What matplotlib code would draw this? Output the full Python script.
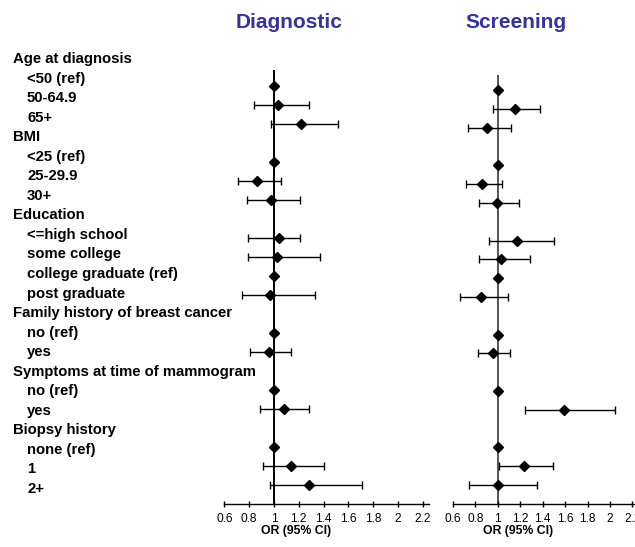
import matplotlib
matplotlib.use("Agg")
import matplotlib.pyplot as plt
import numpy as np

plt.rcParams['font.family'] = ['Liberation Sans', 'DejaVu Sans']

# Row labels (headers are not indented)
labels = ["Age at diagnosis", "<50 (ref)", "50-64.9", "65+",
          "BMI", "<25 (ref)", "25-29.9", "30+",
          "Education", "<=high school", "some college", "college graduate (ref)", "post graduate",
          "Family history of breast cancer", "no (ref)", "yes",
          "Symptoms at time of mammogram", "no (ref)", "yes",
          "Biopsy history", "none (ref)", "1", "2+"]
is_header = [True, False, False, False,
             True, False, False, False,
             True, False, False, False, False,
             True, False, False,
             True, False, False,
             True, False, False, False]

# Diagnostic: OR, lower CI, upper CI (None for header rows)
diag_or = [None, 1.00, 1.035, 1.215, None, 1.00, 0.86, 0.975, None, 1.04, 1.025, 1.00, 0.965,
           None, 1.00, 0.957, None, 1.00, 1.078, None, 1.00, 1.135, 1.28]
diag_lo = [None, 1.00, 0.84, 0.98, None, 1.00, 0.71, 0.78, None, 0.79, 0.79, 1.00, 0.74,
           None, 1.00, 0.81, None, 1.00, 0.89, None, 1.00, 0.915, 0.97]
diag_hi = [None, 1.00, 1.28, 1.52, None, 1.00, 1.06, 1.21, None, 1.21, 1.375, 1.00, 1.33,
           None, 1.00, 1.137, None, 1.00, 1.28, None, 1.00, 1.40, 1.71]

# Screening
scr_or = [None, 1.00, 1.155, 0.90, None, 1.00, 0.855, 0.99, None, 1.17, 1.027, 1.00, 0.846,
          None, 1.00, 0.956, None, 1.00, 1.587, None, 1.00, 1.235, 1.00]
scr_lo = [None, 1.00, 0.96, 0.73, None, 1.00, 0.716, 0.83, None, 0.92, 0.83, 1.00, 0.666,
          None, 1.00, 0.82, None, 1.00, 1.246, None, 1.00, 1.01, 0.74]
scr_hi = [None, 1.00, 1.377, 1.12, None, 1.00, 1.033, 1.19, None, 1.50, 1.29, 1.00, 1.09,
          None, 1.00, 1.11, None, 1.00, 2.046, None, 1.00, 1.49, 1.347]

xticks = [0.6, 0.8, 1.0, 1.2, 1.4, 1.6, 1.8, 2.0, 2.2]
xticklabels = ["0.6", "0.8", "1", "1.2", "1.4", "1.6", "1.8", "2", "2.2"]

W, H = 635, 547
fig = plt.figure(figsize=(W / 100, H / 100), dpi=100)


def px_axes(x0, y0, x1, y1):
    return fig.add_axes([x0 / W, 1 - y1 / H, (x1 - x0) / W, (y1 - y0) / H])


def panel(ax, ors, los, his, ylim, vcolor, title, title_x):
    rows = [i for i, v in enumerate(ors) if v is not None]
    o = np.array([ors[i] for i in rows])
    lo = np.array([los[i] for i in rows])
    hi = np.array([his[i] for i in rows])
    ax.patch.set_visible(False)
    ax.set_xlim(0.6, 2.25)
    ax.set_ylim(*ylim)
    ax.axvline(1.0, color=vcolor, lw=1.4, zorder=1)
    ax.errorbar(o, rows, xerr=[o - lo, hi - o], fmt='D', color='black',
                ecolor='black', elinewidth=1, capsize=2.6, capthick=1,
                markersize=5.3, zorder=3)
    for s in ['top', 'left', 'right']:
        ax.spines[s].set_visible(False)
    ax.spines['bottom'].set_linewidth(1)
    ax.set_yticks([])
    ax.set_xticks(xticks)
    ax.set_xticklabels(xticklabels, fontsize=8.6)
    ax.tick_params(axis='x', direction='inout', length=5, width=1, pad=4)
    ax.text(0.353, -0.064, "OR (95% CI)", transform=ax.transAxes, ha='center',
            va='center', fontsize=8.8, fontweight='bold')
    fig.text(title_x / W, 1 - 23 / H, title, ha='center', va='center',
             fontsize=15, fontweight='bold', color='#333399')


axd = px_axes(224.3, 70, 429, 503.5)
panel(axd, diag_or, diag_lo, diag_hi, (22.97, 0.158), 'black', "Diagnostic", 289)

axs = px_axes(453, 75, 638, 503.5)
panel(axs, scr_or, scr_lo, scr_hi, (22.98, 0.2026), '#555555', "Screening", 516)

# Label axes (added last so labels are drawn on top)
axl = px_axes(0, 40, 222, 505)
axl.patch.set_visible(False)
axl.set_xlim(0, 222)
axl.set_ylim(22.82, -0.972)
axl.axis('off')
for i, (lab, hd) in enumerate(zip(labels, is_header)):
    axl.text(13 if hd else 27, i, lab, ha='left', va='center',
             fontsize=10.7, fontweight='bold', color='black', clip_on=False)

fig.savefig("out.png", dpi=100)
